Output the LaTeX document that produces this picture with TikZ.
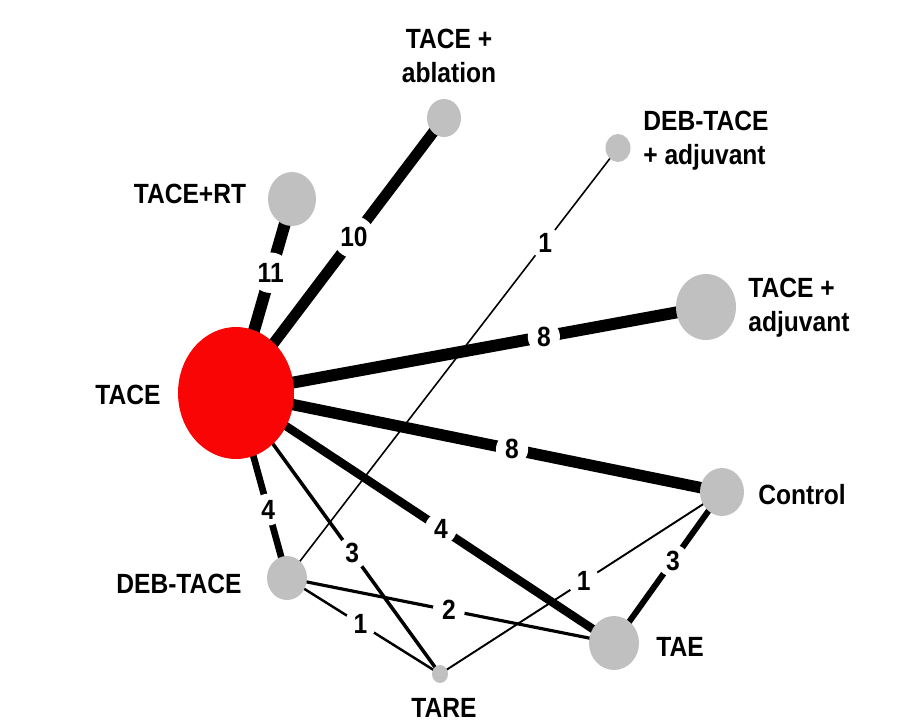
\documentclass[tikz,border=0pt]{standalone}
\usepackage{fontspec}
\setmainfont{Liberation Sans}
\usepackage{graphicx}
\usetikzlibrary{shapes.geometric,backgrounds}
\definecolor{nodegray}{RGB}{192,192,192}
\definecolor{nodered}{RGB}{250,5,5}
\newcommand{\tall}[1]{\scalebox{1}[1.13]{#1}}

\begin{document}
\begin{tikzpicture}[x=0.02cm,y=-0.02cm,
    trial/.style 2 args={ellipse,fill=nodegray,inner sep=0pt,minimum width=#1,minimum height=#2},
    lbl/.style={font=\bfseries\fontsize{14}{19.3}\selectfont,inner sep=0pt},
    num/.style={circle,fill=white,inner sep=1.7pt,font=\bfseries\fontsize{14}{16}\selectfont}]
  \useasboundingbox (0,0) rectangle (923,721);

  % Treatments
  \node[trial={2.32cm}{2.64cm},fill=nodered] (tace) at (236,393) {};
  \node[trial={0.96cm}{1.08cm}] (rt) at (292,199) {};
  \node[trial={0.68cm}{0.76cm}] (ablation) at (444,118) {};
  \node[trial={0.5cm}{0.56cm}] (debadj) at (618,148) {};
  \node[trial={1.2cm}{1.32cm}] (taceadj) at (706,307) {};
  \node[trial={0.88cm}{0.96cm}] (control) at (722,492) {};
  \node[trial={1.0cm}{1.08cm}] (tae) at (614,643) {};
  \node[trial={0.32cm}{0.36cm}] (tare) at (440,674) {};
  \node[trial={0.8cm}{0.88cm}] (deb) at (287,578) {};

  % Comparisons
  \begin{scope}[on background layer]
    \draw[line width=6.8pt] (tace.center) -- (rt.center) node[num,pos=0.62] {\tall{11}};
    \draw[line width=6.2pt] (tace.center) -- (ablation.center) node[num,pos=0.567] {\tall{10}};
    \draw[line width=6.8pt] (tace.center) -- (taceadj.center) node[num,pos=0.655] {\tall{8}};
    \draw[line width=6.5pt] (tace.center) -- (control.center) node[num,pos=0.568] {\tall{8}};
    \draw[line width=4.8pt] (tace.center) -- (tae.center) node[num,pos=0.542] {\tall{4}};
    \draw[line width=3.8pt] (tace.center) -- (deb.center) node[num,pos=0.63] {\tall{4}};
    \draw[line width=2pt] (tace.center) -- (tare.center) node[num,pos=0.57] {\tall{3}};
    \draw[line width=0.9pt] (deb.center) -- (debadj.center) node[num,pos=0.78] {\tall{1}};
    \draw[line width=1.8pt] (deb.center) -- (tae.center) node[num,pos=0.495] {\tall{2}};
    \draw[line width=1.4pt] (deb.center) -- (tare.center) node[num,pos=0.48] {\tall{1}};
    \draw[line width=1.1pt] (tare.center) -- (control.center) node[num,pos=0.51] {\tall{1}};
    \draw[line width=3.4pt] (tae.center) -- (control.center) node[num,pos=0.546] {\tall{3}};
  \end{scope}

  % Labels
  \node[lbl] (tacetxt) at (128,395) {\tall{TACE}};
  \node[lbl] (rttxt) at (190,194) {\tall{TACE+RT}};
  \node[lbl,align=center] (ablationtxt) at (449,56) {\tall{TACE +}\\\tall{ablation}};
  \node[lbl,align=left,anchor=west] (debadjtxt) at (643,141) {\tall{DEB-TACE}\\\tall{+ adjuvant}};
  \node[lbl,align=left,anchor=west] (taceadjtxt) at (748,308) {\tall{TACE +}\\\tall{adjuvant}};
  \node[lbl] (controltxt) at (802,495) {\tall{Control}};
  \node[lbl] (taetxt) at (680,647) {\tall{TAE}};
  \node[lbl] (taretxt) at (444,708) {\tall{TARE}};
  \node[lbl] (debtxt) at (179,584) {\tall{DEB-TACE}};
\end{tikzpicture}
\end{document}
